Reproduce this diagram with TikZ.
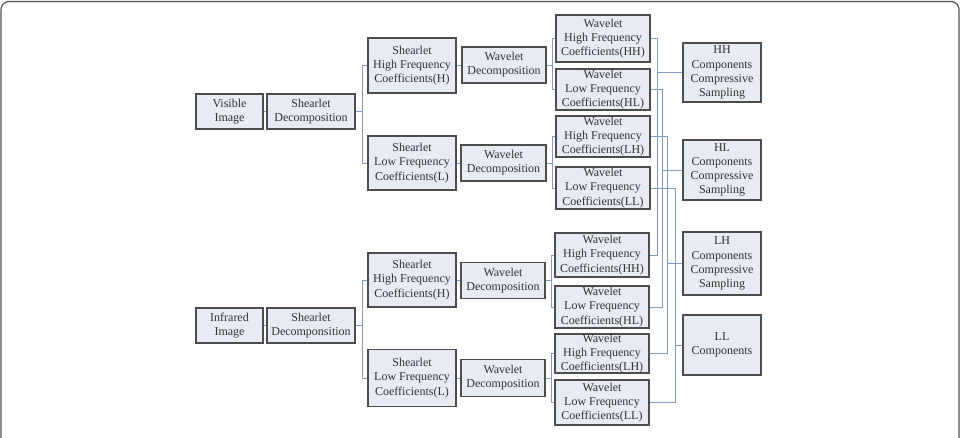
\documentclass[tikz,border=0pt]{standalone}
\usepackage{fontspec}
\setmainfont{Liberation Serif}
\definecolor{boxfill}{HTML}{E7EBF3}
\definecolor{boxline}{HTML}{4D4D4D}
\definecolor{connc}{HTML}{7F9DCB}
\definecolor{txtc}{HTML}{333333}
\definecolor{framec}{HTML}{555555}
\tikzset{
  blk/.style={draw=boxline, fill=boxfill, line width=1.3pt, inner sep=0pt, align=center,
    text=txtc, font=\fontsize{12}{14.2}\selectfont},
  conn/.style={draw=connc, line width=0.9pt},
}
\begin{document}
\begin{tikzpicture}[x=1pt,y=-1pt]
\useasboundingbox (0,0) rectangle (965,438);
\draw[framec, line width=1.2pt, rounded corners=8pt] (1,1.5) rectangle (959,470);
% left column
\node[blk, minimum width=67pt, minimum height=35pt] (vis) at (229.5,111.5) {Visible\\Image};
\node[blk, minimum width=88pt, minimum height=35pt] (sd1) at (311,111.5) {Shearlet\\Decomposition};
\node[blk, minimum width=67pt, minimum height=35pt] (ir) at (229.5,325.5) {Infrared\\Image};
\node[blk, minimum width=88pt, minimum height=35pt] (sd2) at (311,325.5) {Shearlet\\Decomponsition};
% shearlet coefficients
\node[blk, minimum width=88pt, minimum height=55pt] (sh1) at (412,65.5) {Shearlet\\High Frequency\\Coefficients(H)};
\node[blk, minimum width=88pt, minimum height=54pt] (sl1) at (412,163) {Shearlet\\Low Frequency\\Coefficients(L)};
\node[blk, minimum width=88pt, minimum height=54pt] (sh2) at (412,280) {Shearlet\\High Frequency\\Coefficients(H)};
\node[blk, minimum width=88pt, minimum height=57pt] (sl2) at (412,378) {Shearlet\\Low Frequency\\Coefficients(L)};
% wavelet decompositions
\node[blk, minimum width=84pt, minimum height=36pt] (wd1) at (504,65) {Wavelet\\Decomposition};
\node[blk, minimum width=85pt, minimum height=36pt] (wd2) at (503.5,163) {Wavelet\\Decomposition};
\node[blk, minimum width=84pt, minimum height=36pt] (wd3) at (503,280.5) {Wavelet\\Decomposition};
\node[blk, minimum width=84pt, minimum height=37pt] (wd4) at (503,378) {Wavelet\\Decomposition};
% wavelet coefficients
\node[blk, minimum width=94pt, minimum height=47pt] (hh1) at (603,38.5) {Wavelet\\High Frequency\\Coefficients(HH)};
\node[blk, minimum width=94pt, minimum height=41pt] (hl1) at (603,89.5) {Wavelet\\Low Frequency\\Coefficients(HL)};
\node[blk, minimum width=94pt, minimum height=41pt] (lh1) at (603,136.5) {Wavelet\\High Frequency\\Coefficients(LH)};
\node[blk, minimum width=94pt, minimum height=42pt] (ll1) at (603,188) {Wavelet\\Low Frequency\\Coefficients(LL)};
\node[blk, minimum width=94pt, minimum height=44pt] (hh2) at (602,255) {Wavelet\\High Frequency\\Coefficients(HH)};
\node[blk, minimum width=94pt, minimum height=42pt] (hl2) at (602,307) {Wavelet\\Low Frequency\\Coefficients(HL)};
\node[blk, minimum width=94pt, minimum height=39pt] (lh2) at (602,353.5) {Wavelet\\High Frequency\\Coefficients(LH)};
\node[blk, minimum width=94pt, minimum height=45pt] (ll2) at (602,402.5) {Wavelet\\Low Frequency\\Coefficients(LL)};
% components
\node[blk, minimum width=78pt, minimum height=59pt] (chh) at (722,72.5) {HH\\Components\\Compressive\\Sampling};
\node[blk, minimum width=78pt, minimum height=60pt] (chl) at (722,170) {HL\\Components\\Compressive\\Sampling};
\node[blk, minimum width=78pt, minimum height=63pt] (clh) at (722,263.5) {LH\\Components\\Compressive\\Sampling};
\node[blk, minimum width=78pt, minimum height=60pt] (cll) at (722,345) {LL\\Components};
% connectors: left part
\draw[conn] (vis.east) -- (sd1.west);
\draw[conn] (ir.east) -- (sd2.west);
\draw[conn] (sd1.east) -- ++(7,0) |- (sh1.west);
\draw[conn] (sd1.east) -- ++(7,0) |- (sl1.west);
\draw[conn] (sd2.east) -- ++(7,0) |- (sh2.west);
\draw[conn] (sd2.east) -- ++(7,0) |- (sl2.west);
\draw[conn] (sh1.east) -- (sh1.east -| wd1.west);
\draw[conn] (sl1.east) -- (sl1.east -| wd2.west);
\draw[conn] (sh2.east) -- (sh2.east -| wd3.west);
\draw[conn] (sl2.east) -- (sl2.east -| wd4.west);
\draw[conn] (wd1.east) -- ++(6,0) |- (hh1.west);
\draw[conn] (wd1.east) -- ++(6,0) |- (hl1.west);
\draw[conn] (wd2.east) -- ++(6,0) |- (lh1.west);
\draw[conn] (wd2.east) -- ++(6,0) |- (ll1.west);
\draw[conn] (wd3.east) -- ++(6,0) |- (hh2.west);
\draw[conn] (wd3.east) -- ++(6,0) |- (hl2.west);
\draw[conn] (wd4.east) -- ++(6,0) |- (lh2.west);
\draw[conn] (wd4.east) -- ++(6,0) |- (ll2.west);
% buses
\coordinate (bHH) at (657,0);
\coordinate (bHL) at (662,0);
\coordinate (bLH) at (667,0);
\coordinate (bLL) at (675,0);
\draw[conn] (hh1.east) -| (bHH |- hh2.east) -- (hh2.east);
\draw[conn] (bHH |- chh.west) -- (chh.west);
\draw[conn] (hl1.east) -| (bHL |- hl2.east) -- (hl2.east);
\draw[conn] (bHL |- chl.west) -- (chl.west);
\draw[conn] (lh1.east) -| (bLH |- lh2.east) -- (lh2.east);
\draw[conn] (bLH |- clh.west) -- (clh.west);
\draw[conn] (ll1.east) -| (bLL |- ll2.east) -- (ll2.east);
\draw[conn] (bLL |- cll.west) -- (cll.west);
\end{tikzpicture}
\end{document}
